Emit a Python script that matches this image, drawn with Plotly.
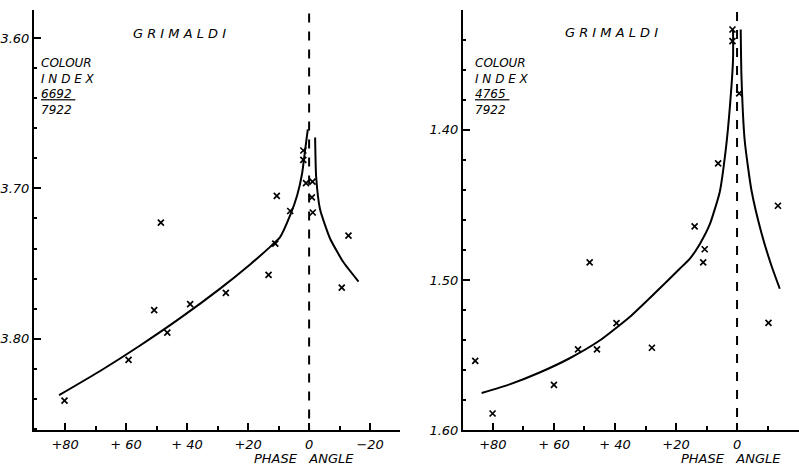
import plotly.graph_objects as go

W, H = 799, 476

# ---------------- data: left panel (colour index 6692/7922) ----------------
left_phase = [48.6, 10.6, 6.2, 1.9, 1.9, 1.0, -1.1, -0.9, -1.2, -12.9,
              11.1, 13.3, 27.3, 39.0, 50.8, 46.5, 59.2, 80.2, -10.7]
left_ci = [3.7227, 3.705, 3.715, 3.6747, 3.681, 3.6965, 3.6954, 3.706, 3.716, 3.7314,
           3.7368, 3.7575, 3.7695, 3.7771, 3.781, 3.796, 3.8142, 3.8414, 3.766]
left_curve_pos_phase = [81.97, 68.52, 55.41, 42.30, 29.18, 19.34, 12.79, 9.51, 6.23, 3.93,
                        2.30, 1.31, 0.43]
left_curve_pos_ci = [3.8377, 3.8216, 3.8046, 3.7864, 3.7667, 3.7506, 3.7389, 3.7324, 3.7180,
                     3.7047, 3.6900, 3.6745, 3.6606]
left_curve_neg_phase = [-1.97, -2.3, -3.6, -6.9, -11.2, -16.2]
left_curve_neg_ci = [3.666, 3.692, 3.714, 3.7335, 3.749, 3.762]

# ---------------- data: right panel (colour index 4765/7922) ----------------
right_phase = [1.5, 1.5, -0.7, 6.2, -13.4, 13.9, 10.6, 11.1, 48.3, 39.5,
               52.1, 45.9, 27.9, 85.8, 60.0, 80.1, -10.3]
right_ci = [1.3331, 1.3408, 1.3757, 1.4223, 1.4505, 1.4643, 1.4795, 1.4883, 1.4883, 1.5287,
            1.5462, 1.5462, 1.5451, 1.5539, 1.5698, 1.5889, 1.5285]
right_curve_pos_phase = [83.7, 74.52, 64.69, 54.85, 45.02, 35.18, 26.98, 18.79, 15.51, 12.23,
                         8.95, 5.67, 3.70, 2.39, 1.31, 1.31]
right_curve_pos_ci = [1.5753, 1.5695, 1.5616, 1.5521, 1.5403, 1.5246, 1.5088, 1.4925, 1.4859,
                      1.4761, 1.4630, 1.4413, 1.4131, 1.3856, 1.3528, 1.3331]
right_curve_neg_phase = [-1.2, -1.44, -2.52, -4.72, -8.0, -11.28, -14.0]
right_curve_neg_ci = [1.3331, 1.3637, 1.4074, 1.4402, 1.4687, 1.4905, 1.5058]

x_tickvals = [80, 60, 40, 20, 0, -20]
x_ticktext = ["+80", "+ 60", "+ 40", "+20", "0", "\u221220"]
left_y_tickvals = [3.60, 3.70, 3.80]
left_y_ticktext = ["3.60", "3.70", "3.80"]
right_y_tickvals = [1.40, 1.50, 1.60]
right_y_ticktext = ["1.40", "1.50", "1.60"]

FONT = "DejaVu Sans"
tickfont = dict(family=FONT, size=13, color="black", style="italic")

fig = go.Figure()

def add_panel(xa, ya, phase, ci, cp, cpv, cn, cnv):
    for cx, cy in [(cp, cpv), (cn, cnv)]:
        fig.add_trace(go.Scatter(x=cx, y=cy, mode="lines",
                                 line=dict(color="black", width=2, shape="spline", smoothing=0.5),
                                 xaxis=xa, yaxis=ya, showlegend=False, hoverinfo="skip"))
    fig.add_trace(go.Scatter(x=phase, y=ci, mode="markers",
                             marker=dict(symbol="x-thin", size=6, line=dict(color="black", width=1.7)),
                             xaxis=xa, yaxis=ya, showlegend=False))

add_panel("x", "y", left_phase, left_ci, left_curve_pos_phase, left_curve_pos_ci,
          left_curve_neg_phase, left_curve_neg_ci)
add_panel("x2", "y2", right_phase, right_ci, right_curve_pos_phase, right_curve_pos_ci,
          right_curve_neg_phase, right_curve_neg_ci)

ydom = [(H - 437.5) / H, (H - 10) / H]

def xaxis(dom, rng, anchor):
    return dict(domain=dom, range=rng, anchor=anchor, showgrid=False, zeroline=False,
                showline=True, linecolor="black", linewidth=2, ticks="inside", ticklen=7,
                tickwidth=1.5, tickcolor="black", tickvals=x_tickvals, ticktext=x_ticktext,
                tickfont=tickfont, ticklabelstandoff=1,
                minor=dict(dtick=10, tick0=0, ticks="inside", ticklen=4,
                           tickcolor="black", tickwidth=1.5))

def yaxis(rng, anchor, tv, tt):
    return dict(domain=ydom, range=rng, anchor=anchor, showgrid=False, zeroline=False,
                showline=True, linecolor="black", linewidth=2, ticks="inside", ticklen=7,
                tickwidth=1.5, tickcolor="black", tickvals=tv, ticktext=tt, tickfont=tickfont,
                minor=dict(dtick=0.02, tick0=0, ticks="inside", ticklen=3, tickcolor="black",
                           tickwidth=1.5))

fig.update_layout(
    width=W, height=H, margin=dict(l=0, r=0, t=0, b=0),
    paper_bgcolor="white", plot_bgcolor="white",
    xaxis=xaxis([34 / W, 400 / W], [90.2, -29.8], "y"),
    yaxis=yaxis([3.861, 3.581], "x", left_y_tickvals, left_y_ticktext),
    xaxis2=xaxis([463 / W, 1.0], [89.8, -20.3], "y2"),
    yaxis2=yaxis([1.60, 1.32], "x2", right_y_tickvals, right_y_ticktext),
)

# phase-zero dashed reference lines
for xr, yr, top, bot in [("x", "y", 3.5835, 3.861), ("x2", "y2", 1.3215, 1.60)]:
    fig.add_shape(type="line", xref=xr, yref=yr, x0=0, x1=0, y0=top, y1=bot,
                  line=dict(color="black", width=2, dash="dash"))

def ann(x, y, text, size=13, xanchor="center"):
    fig.add_annotation(xref="paper", yref="paper", x=x / W, y=1 - y / H, text=text,
                       showarrow=False, xanchor=xanchor, yanchor="middle", align="left",
                       borderpad=0,
                       font=dict(family=FONT, size=size, color="black", style="italic"))

ann(179, 34, "G R I M A L D I", 13)
ann(611, 33, "G R I M A L D I", 13)
for x0, num in [(40, "6692"), (474, "4765")]:
    ann(x0, 88, "COLOUR<br>I N D E X<br><u>" + num + " </u><br>7922", 12, xanchor="left")
ann(304, 466, "PHASE   ANGLE", 13)
ann(731, 466, "PHASE   ANGLE", 13)

fig.write_html("out.html")
